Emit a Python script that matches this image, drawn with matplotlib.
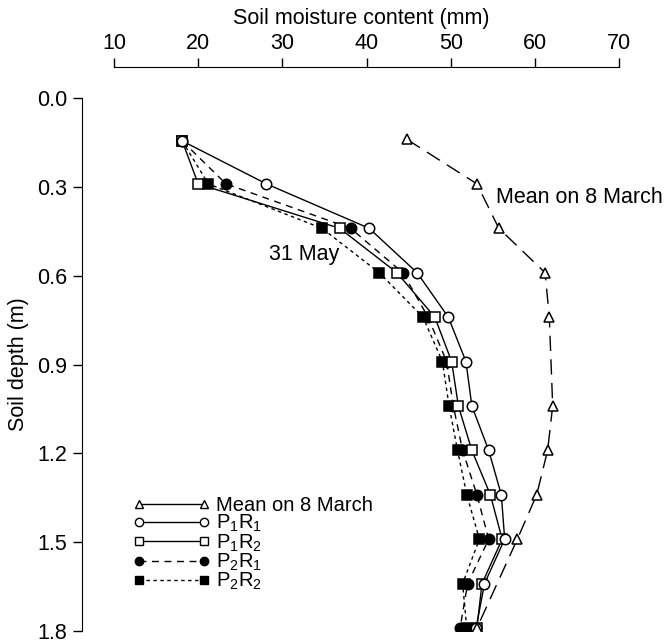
import matplotlib.pyplot as plt
from matplotlib.lines import Line2D

plt.rcParams['font.family'] = ['Liberation Sans', 'DejaVu Sans']
plt.rcParams['mathtext.fontset'] = 'custom'
plt.rcParams['mathtext.rm'] = 'Liberation Sans'

# depths (m)
depth = [0.145, 0.29, 0.44, 0.59, 0.74, 0.89, 1.04, 1.19, 1.34, 1.49, 1.64, 1.79]
depth_march = [0.14, 0.29, 0.44, 0.59, 0.74, 1.04, 1.19, 1.34, 1.49, 1.79]

# soil moisture content (mm)
mean_march = [44.8, 53.1, 55.7, 61.2, 61.7, 62.1, 61.5, 60.2, 57.9, 53.1]
p1r1 = [18.1, 28.1, 40.3, 46.0, 49.7, 51.8, 52.5, 54.5, 56.0, 56.4, 54.0, 53.0]
p1r2 = [18.1, 20.0, 36.8, 43.6, 48.1, 50.1, 50.9, 52.5, 54.7, 56.1, 53.7, 53.1]
p2r1 = [18.1, 23.3, 38.1, 44.3, 47.3, 49.5, 50.3, 51.4, 53.1, 54.5, 52.0, 51.1]
p2r2 = [18.1, 21.2, 34.7, 41.5, 46.7, 49.0, 49.8, 50.8, 51.9, 53.4, 51.4, 51.9]

labels = ['Mean on 8 March', r'$\mathregular{P_1R_1}$', r'$\mathregular{P_1R_2}$',
          r'$\mathregular{P_2R_1}$', r'$\mathregular{P_2R_2}$']

fs = 15.5

fig = plt.figure(figsize=(6.72, 6.44), dpi=100)
ax = fig.add_axes([82 / 672, 1 - 631 / 644, (640 - 82) / 672, (631 - 98) / 644])

ms = 7.5
mew = 1.1
lw = 1.0
ax.plot(p2r2, depth, color='black', lw=lw, ls=(0, (2.5, 2.5)), marker='s', ms=ms,
        mfc='black', mec='black', mew=mew, zorder=2)
ax.plot(p2r1, depth, color='black', lw=lw, ls=(0, (5, 4)), marker='o', ms=ms,
        mfc='black', mec='black', mew=mew, zorder=3)
ax.plot(p1r2, depth, color='black', lw=lw, ls='-', marker='s', ms=ms,
        mfc='white', mec='black', mew=mew, zorder=4)
ax.plot(p1r1, depth, color='black', lw=lw, ls='-', marker='o', ms=ms,
        mfc='white', mec='black', mew=mew, zorder=5)
ax.plot(mean_march, depth_march, color='black', lw=lw, ls=(0, (11, 6)), marker='^', ms=ms,
        mfc='white', mec='black', mew=mew, zorder=6)

ax.text(55.4, 0.335, 'Mean on 8 March', fontsize=fs, va='center', ha='left')
ax.text(28.4, 0.53, '31 May', fontsize=fs, va='center', ha='left')

# axes: x on top, depth increasing downwards
ax.set_xlim(6.2, 72.47)
ax.set_ylim(1.8, 0.0)
ax.xaxis.tick_top()
ax.xaxis.set_label_position('top')
ax.set_xticks([10, 20, 30, 40, 50, 60, 70])
ax.set_yticks([0.0, 0.3, 0.6, 0.9, 1.2, 1.5, 1.8])
ax.set_yticklabels(['0.0', '0.3', '0.6', '0.9', '1.2', '1.5', '1.8'])
ax.spines['right'].set_visible(False)
ax.spines['bottom'].set_visible(False)
ax.spines['top'].set_position(('outward', 22))
ax.spines['top'].set_bounds(10, 70)
ax.spines['left'].set_bounds(0, 1.8)
ax.tick_params(axis='both', direction='out', length=6.5, width=1.0, labelsize=fs)
ax.tick_params(axis='x', pad=3)
ax.tick_params(axis='y', pad=4)
ax.set_xlabel('Soil moisture content (mm)', fontsize=fs, labelpad=7)
ax.set_ylabel('Soil depth (m)', fontsize=fs, labelpad=6)
ax.patch.set_visible(False)

handles = [
    Line2D([], [], color='black', lw=lw, ls='-', marker='^', ms=6, mfc='white', mec='black'),
    Line2D([], [], color='black', lw=lw, ls='-', marker='o', ms=6, mfc='white', mec='black'),
    Line2D([], [], color='black', lw=lw, ls='-', marker='s', ms=6, mfc='white', mec='black'),
    Line2D([], [], color='black', lw=lw, ls=(0, (5, 4)), marker='o', ms=6, mfc='black', mec='black'),
    Line2D([], [], color='black', lw=lw, ls=(0, (2.5, 2.5)), marker='s', ms=6, mfc='black', mec='black'),
]
fig.legend(handles, labels, loc='upper left', bbox_to_anchor=(123 / 672, 1 - 486 / 644),
           frameon=False, fontsize=14.5, handlelength=3.8, handletextpad=0.3,
           labelspacing=-0.1, borderpad=0, numpoints=2)

fig.savefig('out.png', dpi=100)
